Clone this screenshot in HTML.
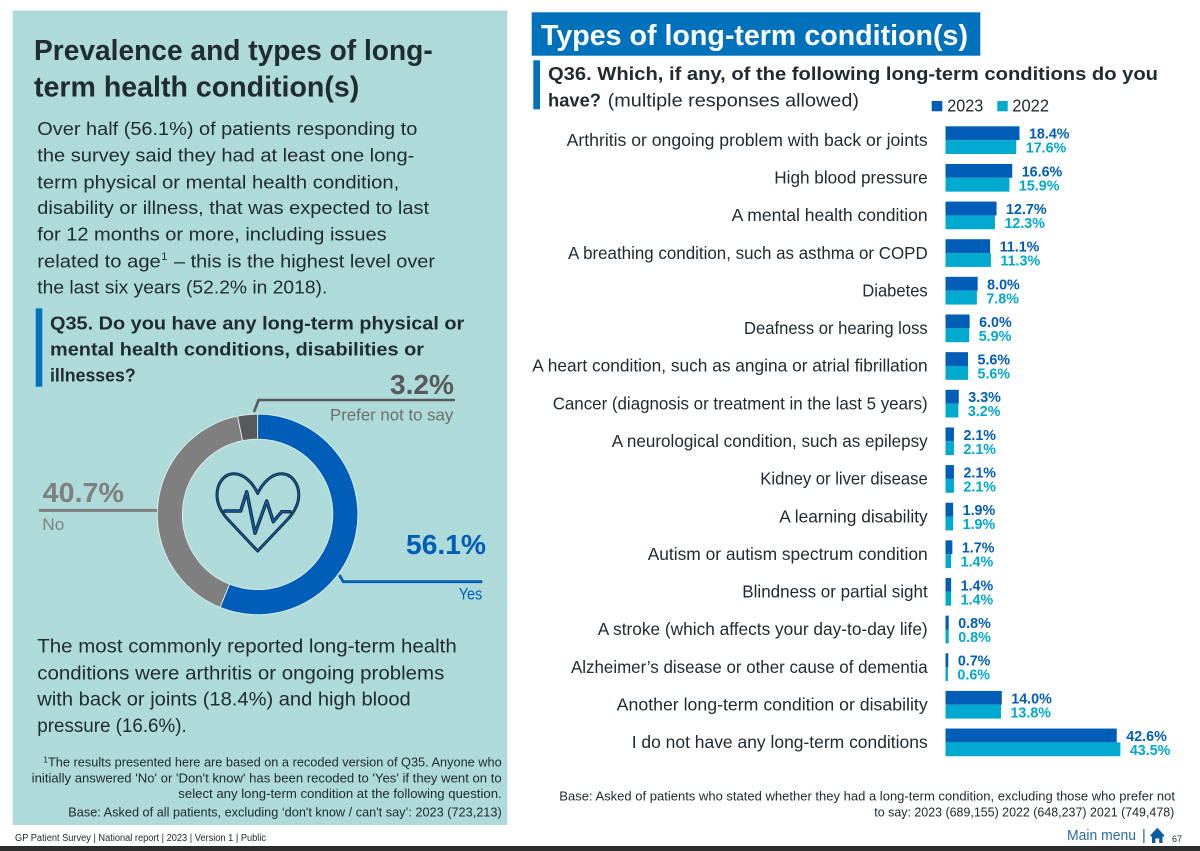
<!DOCTYPE html>
<html lang="en">
<head>
<meta charset="utf-8">
<title>Types of long-term condition(s)</title>
<style>
html,body{margin:0;padding:0;background:#fff;width:1200px;height:851px;overflow:hidden}
svg{display:block;font-family:"Liberation Sans",Arial,sans-serif}
text{fill:#212b32}
.b{font-weight:700}
.p{font-size:18.5px}
.p2{font-size:19.5px}
.q{font-size:18.5px;font-weight:700}
.fn{font-size:13px}
.num{font-size:28px;font-weight:700}
.lab{font-size:17px}
.cat{font-size:17.5px}
</style>
</head>
<body>
<svg id="page" xmlns="http://www.w3.org/2000/svg" width="1200" height="851" viewBox="0 0 1200 851">
  <rect x="12.7" y="10.5" width="494.6" height="814.5" fill="#aedbd9"/>

  <text class="b" font-size="29" x="34" y="60" textLength="398.7" lengthAdjust="spacingAndGlyphs">Prevalence and types of long-</text>
  <text class="b" font-size="29" x="34" y="96.7" textLength="325.3" lengthAdjust="spacingAndGlyphs">term health condition(s)</text>

  <text class="p" x="37.3" y="135" textLength="380" lengthAdjust="spacingAndGlyphs">Over half (56.1%) of patients responding to</text>
  <text class="p" x="37.3" y="161.7" textLength="377" lengthAdjust="spacingAndGlyphs">the survey said they had at least one long-</text>
  <text class="p" x="37.3" y="188.3" textLength="362" lengthAdjust="spacingAndGlyphs">term physical or mental health condition,</text>
  <text class="p" x="37.3" y="214" textLength="391.7" lengthAdjust="spacingAndGlyphs">disability or illness, that was expected to last</text>
  <text class="p" x="37.3" y="240.7" textLength="349.4" lengthAdjust="spacingAndGlyphs">for 12 months or more, including issues</text>
  <text class="p" x="37.3" y="267.3" textLength="123.5" lengthAdjust="spacingAndGlyphs">related to age</text>
  <text font-size="11" x="161.3" y="260">1</text>
  <text class="p" x="174" y="267.3" textLength="261" lengthAdjust="spacingAndGlyphs">– this is the highest level over</text>
  <text class="p" x="37.3" y="293.7" textLength="290" lengthAdjust="spacingAndGlyphs">the last six years (52.2% in 2018).</text>

  <rect x="35.7" y="308.3" width="6.6" height="78.4" fill="#0072bc"/>
  <text class="q" x="50" y="329.3" textLength="414.3" lengthAdjust="spacingAndGlyphs">Q35. Do you have any long-term physical or</text>
  <text class="q" x="50" y="355.7" textLength="374" lengthAdjust="spacingAndGlyphs">mental health conditions, disabilities or</text>
  <text class="q" x="50" y="381.7" textLength="85.7" lengthAdjust="spacingAndGlyphs">illnesses?</text>

  <g id="donut"></g>

  <polyline points="254,412 258.5,400 455,400" fill="none" stroke="#58595b" stroke-width="2.6"/>
  <text class="num" x="390" y="394" textLength="64" lengthAdjust="spacingAndGlyphs" style="fill:#58595b">3.2%</text>
  <text class="lab" x="330" y="420.7" textLength="123.3" lengthAdjust="spacingAndGlyphs" style="fill:#6a6e70">Prefer not to say</text>

  <rect x="39" y="508.9" width="118" height="3" fill="#7f7f7f"/>
  <text class="num" x="42.7" y="502" textLength="81.3" lengthAdjust="spacingAndGlyphs" style="fill:#7f7f7f">40.7%</text>
  <text class="lab" x="42.3" y="530" textLength="22" lengthAdjust="spacingAndGlyphs" style="fill:#7f7f7f">No</text>

  <polyline points="339.3,575 343.3,581.7 482.3,581.7" fill="none" stroke="#005eb8" stroke-width="2.8"/>
  <text class="num" x="406" y="554" textLength="80" lengthAdjust="spacingAndGlyphs" style="fill:#005eb8">56.1%</text>
  <text class="lab" x="458.7" y="599.3" textLength="23.6" lengthAdjust="spacingAndGlyphs" style="fill:#005eb8">Yes</text>

  <g fill="none" stroke-linejoin="round" stroke-linecap="round">
    <path d="M257.7,493.5C253,483 244,473.8 234,473.8C223.5,473.8 217,484 217,495C217,505 222,513 228,519.5L257.7,551L287.5,519.5C293.5,513 298.8,505 298.8,495C298.8,484 292,473.8 281.5,473.8C271.5,473.8 262.5,483 257.7,493.5Z" stroke="#15283c" stroke-width="3"/>
    <path d="M225,511H240.7L246.7,491.7L255,533.3L266.7,501L273.3,521.7L281.7,511.7H290" stroke="#15283c" stroke-width="3.4"/>
    <path d="M257.7,493.5C253,483 244,473.8 234,473.8C223.5,473.8 217,484 217,495C217,505 222,513 228,519.5L257.7,551L287.5,519.5C293.5,513 298.8,505 298.8,495C298.8,484 292,473.8 281.5,473.8C271.5,473.8 262.5,483 257.7,493.5Z" stroke="#0a63b5" stroke-width="1"/>
    <path d="M225,511H240.7L246.7,491.7L255,533.3L266.7,501L273.3,521.7L281.7,511.7H290" stroke="#0a63b5" stroke-width="1.4"/>
  </g>

  <text class="p2" x="37.3" y="652.7" textLength="419.4" lengthAdjust="spacingAndGlyphs">The most commonly reported long-term health</text>
  <text class="p2" x="37.3" y="679.3" textLength="407" lengthAdjust="spacingAndGlyphs">conditions were arthritis or ongoing problems</text>
  <text class="p2" x="37.3" y="705.3" textLength="373.4" lengthAdjust="spacingAndGlyphs">with back or joints (18.4%) and high blood</text>
  <text class="p2" x="37.3" y="732" textLength="149.4" lengthAdjust="spacingAndGlyphs">pressure (16.6%).</text>

  <text font-size="8.5" x="43.3" y="762.5">1</text>
  <text class="fn" x="48" y="766.7" textLength="453.7" lengthAdjust="spacingAndGlyphs">The results presented here are based on a recoded version of Q35. Anyone who</text>
  <text class="fn" x="31.7" y="782.3" textLength="470" lengthAdjust="spacingAndGlyphs">initially answered 'No' or 'Don't know' has been recoded to 'Yes' if they went on to</text>
  <text class="fn" x="178.3" y="798" textLength="323.4" lengthAdjust="spacingAndGlyphs">select any long-term condition at the following question.</text>
  <text class="fn" x="68.3" y="816.7" textLength="433.4" lengthAdjust="spacingAndGlyphs">Base: Asked of all patients, excluding ‘don't know / can't say’: 2023 (723,213)</text>

  <text font-size="10" x="15" y="841" textLength="251" lengthAdjust="spacingAndGlyphs">GP Patient Survey | National report | 2023 | Version 1 | Public</text>

  <rect x="531.7" y="12.3" width="448.6" height="43.4" fill="#0072bc"/>
  <text class="b" font-size="29" x="541" y="45" textLength="427" lengthAdjust="spacingAndGlyphs" style="fill:#fff">Types of long-term condition(s)</text>

  <rect x="533.3" y="60.3" width="6.7" height="49" fill="#0072bc"/>
  <text class="q" x="548" y="80" textLength="610" lengthAdjust="spacingAndGlyphs">Q36. Which, if any, of the following long-term conditions do you</text>
  <text class="q" x="548" y="106.7" textLength="53" lengthAdjust="spacingAndGlyphs">have?</text>
  <text font-size="18.5" x="607.7" y="106.7" textLength="251.3" lengthAdjust="spacingAndGlyphs">(multiple responses allowed)</text>

  <g>
    <rect x="931.7" y="101" width="10.6" height="10.3" fill="#005eb8"/>
    <text font-size="17.5" x="947.3" y="111.7" textLength="36" lengthAdjust="spacingAndGlyphs">2023</text>
    <rect x="997.3" y="101" width="10.4" height="10.3" fill="#00a9ce"/>
    <text font-size="17.5" x="1012.3" y="111.7" textLength="36.7" lengthAdjust="spacingAndGlyphs">2022</text>
  </g>

  <g>
    <text class="cat" x="566.7" y="145.9" textLength="361" lengthAdjust="spacingAndGlyphs">Arthritis or ongoing problem with back or joints</text>
    <text class="cat" x="774.3" y="183.5" textLength="153.4" lengthAdjust="spacingAndGlyphs">High blood pressure</text>
    <text class="cat" x="731.7" y="221.2" textLength="196" lengthAdjust="spacingAndGlyphs">A mental health condition</text>
    <text class="cat" x="568" y="258.8" textLength="359.7" lengthAdjust="spacingAndGlyphs">A breathing condition, such as asthma or COPD</text>
    <text class="cat" x="862.3" y="296.5" textLength="65.4" lengthAdjust="spacingAndGlyphs">Diabetes</text>
    <text class="cat" x="744" y="334.1" textLength="183.7" lengthAdjust="spacingAndGlyphs">Deafness or hearing loss</text>
    <text class="cat" x="532.3" y="371.7" textLength="395.4" lengthAdjust="spacingAndGlyphs">A heart condition, such as angina or atrial fibrillation</text>
    <text class="cat" x="552.7" y="409.4" textLength="375" lengthAdjust="spacingAndGlyphs">Cancer (diagnosis or treatment in the last 5 years)</text>
    <text class="cat" x="611.7" y="447" textLength="316" lengthAdjust="spacingAndGlyphs">A neurological condition, such as epilepsy</text>
    <text class="cat" x="760.3" y="484.7" textLength="167.4" lengthAdjust="spacingAndGlyphs">Kidney or liver disease</text>
    <text class="cat" x="779.3" y="522.3" textLength="148.4" lengthAdjust="spacingAndGlyphs">A learning disability</text>
    <text class="cat" x="647.7" y="559.9" textLength="280" lengthAdjust="spacingAndGlyphs">Autism or autism spectrum condition</text>
    <text class="cat" x="742.3" y="597.6" textLength="185.4" lengthAdjust="spacingAndGlyphs">Blindness or partial sight</text>
    <text class="cat" x="597.7" y="635.2" textLength="330" lengthAdjust="spacingAndGlyphs">A stroke (which affects your day-to-day life)</text>
    <text class="cat" x="571" y="672.9" textLength="356.7" lengthAdjust="spacingAndGlyphs">Alzheimer’s disease or other cause of dementia</text>
    <text class="cat" x="616.7" y="710.5" textLength="311" lengthAdjust="spacingAndGlyphs">Another long-term condition or disability</text>
    <text class="cat" x="631.7" y="748.1" textLength="296" lengthAdjust="spacingAndGlyphs">I do not have any long-term conditions</text>
  </g>

  <g id="bars"></g>

  <text class="fn" x="559.3" y="800.7" textLength="615.7" lengthAdjust="spacingAndGlyphs">Base: Asked of patients who stated whether they had a long-term condition, excluding those who prefer not</text>
  <text class="fn" x="874.3" y="816.7" textLength="300" lengthAdjust="spacingAndGlyphs">to say: 2023 (689,155) 2022 (648,237) 2021 (749,478)</text>

  <text font-size="14.5" x="1067" y="840" textLength="69" lengthAdjust="spacingAndGlyphs" style="fill:#2a6ca8">Main menu</text>
  <text font-size="14.5" x="1142" y="840" style="fill:#1f5f9c">|</text>
  <g fill="#0b5c9e">
    <path d="M1157.3,827.7L1150.5,835V836.5H1164V835Z"/>
    <path d="M1152,836H1162.5V843H1159.2V838.5H1155.4V843H1152Z"/>
  </g>
  <text font-size="9" x="1172" y="842">67</text>

  <rect x="0" y="846" width="1200" height="5" fill="#2d2d2d"/>
</svg>

<script>
var donutCategories = ["Yes", "No", "Prefer not to say"];
var donutValues = [56.1, 40.7, 3.2];

var conditionKeys = [
  "arthritis", "high-blood-pressure", "mental-health", "breathing", "diabetes",
  "deafness", "heart", "cancer", "neurological", "kidney-liver",
  "learning-disability", "autism", "blindness", "stroke", "dementia",
  "another-condition", "no-condition"
];
var values2023 = [18.4, 16.6, 12.7, 11.1, 8.0, 6.0, 5.6, 3.3, 2.1, 2.1, 1.9, 1.7, 1.4, 0.8, 0.7, 14.0, 42.6];
var values2022 = [17.6, 15.9, 12.3, 11.3, 7.8, 5.9, 5.6, 3.2, 2.1, 2.1, 1.9, 1.4, 1.4, 0.8, 0.6, 13.8, 43.5];

var NS = "http://www.w3.org/2000/svg";

function xScale(v) { return 945.5 + v * 4.02; }
function rowTop(i) { return 126.3 + i * 37.64; }

function slug(s) {
  return s.toLowerCase().replace(/[^a-z0-9]+/g, "-").replace(/^-|-$/g, "");
}

function makeEl(tag, parent) {
  var el = document.createElementNS(NS, tag);
  parent.appendChild(el);
  return el;
}

var barsGroup = document.getElementById("bars");
conditionKeys.forEach(function (key, i) {
  var top = rowTop(i);
  var series = [
    { year: "2023", v: values2023[i], color: "#005eb8", y: top, base: top + 12.4 },
    { year: "2022", v: values2022[i], color: "#00a9ce", y: top + 13.85, base: top + 26.4 }
  ];
  series.forEach(function (s) {
    var r = makeEl("rect", barsGroup);
    
    
    r.setAttribute("x", xScale(0));
    r.setAttribute("y", s.y);
    r.setAttribute("width", xScale(s.v) - xScale(0));
    r.setAttribute("height", 13.85);
    r.setAttribute("fill", s.color);

    var vt = makeEl("text", barsGroup);
    
    
    vt.setAttribute("x", xScale(s.v) + 9.5);
    vt.setAttribute("y", s.base);
    vt.setAttribute("font-size", "14.3");
    vt.setAttribute("font-weight", "700");
    vt.style.fill = s.color;
    vt.textContent = s.v.toFixed(1) + "%";
  });
});

var donutColors = ["#005eb8", "#7f7f7f", "#58595b"];
function donutAngle(cum) {
  var total = donutValues.reduce(function (a, b) { return a + b; }, 0);
  return (cum / total) * 2 * Math.PI - Math.PI / 2;
}
function donutPoint(a, r) {
  return (257.6 + r * Math.cos(a)).toFixed(2) + "," + (514.4 + r * Math.sin(a)).toFixed(2);
}
var donutGroup = document.getElementById("donut");
var cumulative = 0;
donutValues.forEach(function (v, i) {
  var a0 = donutAngle(cumulative);
  var a1 = donutAngle(cumulative + v);
  cumulative += v;
  var large = a1 - a0 > Math.PI ? 1 : 0;
  var p = makeEl("path", donutGroup);
  
  
  p.setAttribute("d",
    "M" + donutPoint(a0, 100.3) +
    "A100.3,100.3 0 " + large + " 1 " + donutPoint(a1, 100.3) +
    "L" + donutPoint(a1, 75.2) +
    "A75.2,75.2 0 " + large + " 0 " + donutPoint(a0, 75.2) + "Z");
  p.setAttribute("fill", donutColors[i]);
  p.setAttribute("stroke", "#dff0ef");
  p.setAttribute("stroke-width", "0.9");
});
</script>
</body>
</html>
